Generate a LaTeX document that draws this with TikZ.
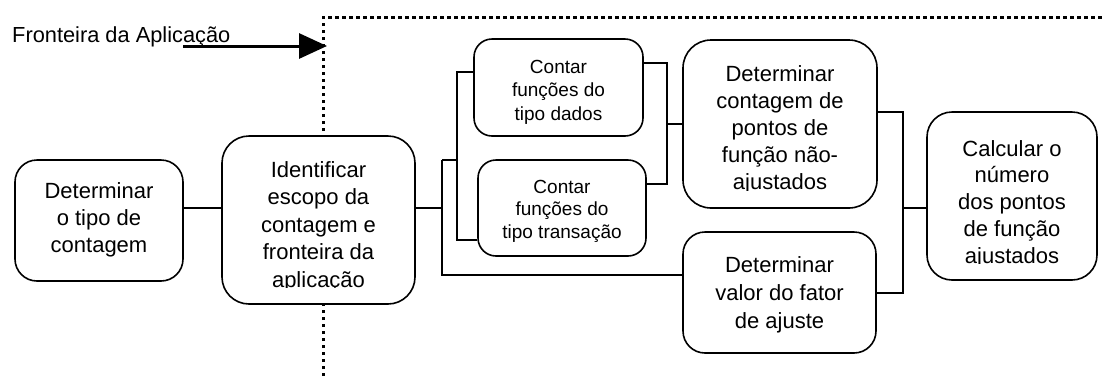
\documentclass[tikz,border=0pt]{standalone}
\usepackage{fontspec}
\setmainfont{Liberation Sans}
\usetikzlibrary{arrows.meta}
\newcommand\tlines[1]{\begin{tabular}[t]{@{}c@{}}#1\end{tabular}}
\tikzset{
  box/.style={draw, line width=1.6pt, fill=white, rounded corners=#1, inner sep=0pt},
  box/.default=22pt,
  conn/.style={line width=1.6pt},
  txt/.style={anchor=base, inner sep=0pt},
  big/.style={font=\fontsize{22}{#1}\selectfont},
  small/.style={font=\fontsize{19}{#1}\selectfont},
  boundary/.style={line width=3pt, dash pattern=on 3.5pt off 3.5pt},
}
\begin{document}
\begin{tikzpicture}[x=1pt,y=-1pt]
\useasboundingbox (0,0) rectangle (1106,376);

% application boundary
\coordinate (bb) at (323,376);
\coordinate (bc) at (323,17);
\coordinate (br) at (1104,17);
\draw[boundary] (bb) -- (bc) -- (br);

\node[anchor=base west, inner sep=0pt, font=\fontsize{21.8}{26}\selectfont] (title) at (12,42) {Fronteira da Aplicação};
\coordinate (atail) at (183,46);
\coordinate (atip) at (327,46);
\draw[line width=3pt, -{Triangle[length=28pt,width=25pt]}] (atail) -- (atip);

% boxes
\node[box=22pt, minimum width=168pt, minimum height=121pt] (b1) at (99,220.5) {};
\node[box=27pt, minimum width=193pt, minimum height=168pt] (b2) at (318.5,220) {};
\node[box=18pt, minimum width=169pt, minimum height=97pt] (b3) at (558.5,87.5) {};
\node[box=18pt, minimum width=168pt, minimum height=96pt] (b4) at (562,208) {};
\node[box=28pt, minimum width=194pt, minimum height=168pt] (b5) at (780,124) {};
\node[box=22pt, minimum width=193pt, minimum height=121pt] (b6) at (779.5,292.5) {};
\node[box=25pt, minimum width=170pt, minimum height=168pt] (b7) at (1012,196) {};

% texts
\node[txt, big=27] (t1) at (99,198) {\tlines{Determinar\\o tipo de\\contagem}};
\begin{scope}
  \clip (222,136) rectangle (415,287.5);
  \node[txt, big=27.5] (t2) at (318.5,177) {\tlines{Identificar\\escopo da\\contagem e\\fronteira da\\aplicação}};
\end{scope}
\node[txt, small=23.5] (t3) at (558.5,73) {\tlines{Contar\\funções do\\tipo dados}};
\node[txt, small=22.5] (t4) at (562,193) {\tlines{Contar\\funções do\\tipo transação}};
\begin{scope}
  \clip (683,40) rectangle (877,190);
  \node[txt, big=27] (t5) at (780,81) {\tlines{Determinar\\contagem de\\pontos de\\função não-\\ajustados}};
\end{scope}
\node[txt, big=28] (t6) at (779.5,272) {\tlines{Determinar\\valor do fator\\de ajuste}};
\begin{scope}
  \clip (927,112) rectangle (1097,263.5);
  \node[txt, big=26.75] (t7) at (1012,156) {\tlines{Calcular o\\número\\dos pontos\\de função\\ajustados}};
\end{scope}

% junction points
\coordinate (j1) at (442,208);
\coordinate (j1t) at (442,160);
\coordinate (j1b) at (442,275);
\coordinate (j2t) at (457,72);
\coordinate (j2m) at (457,160);
\coordinate (j2b) at (457,240);
\coordinate (j3t) at (667,63);
\coordinate (j3m) at (667,124);
\coordinate (j3b) at (667,184);
\coordinate (j4t) at (903,112);
\coordinate (j4m) at (903,208);
\coordinate (j4b) at (903,293);

% connectors
\draw[conn] (b1.east |- j1) -- (b2.west |- j1);
\draw[conn] (b2.east |- j1) -- (j1);
\draw[conn] (j1t) -- (j1b) -- (b6.west |- j1b);
\draw[conn] (j1t) -- (j2m);
\draw[conn] (b3.west |- j2t) -- (j2t) -- (j2b) -- (b4.west |- j2b);
\draw[conn] (b3.east |- j3t) -- (j3t) -- (j3b) -- (b4.east |- j3b);
\draw[conn] (j3m) -- (b5.west |- j3m);
\draw[conn] (b5.east |- j4t) -- (j4t) -- (j4b) -- (b6.east |- j4b);
\draw[conn] (j4m) -- (b7.west |- j4m);
\end{tikzpicture}
\end{document}
